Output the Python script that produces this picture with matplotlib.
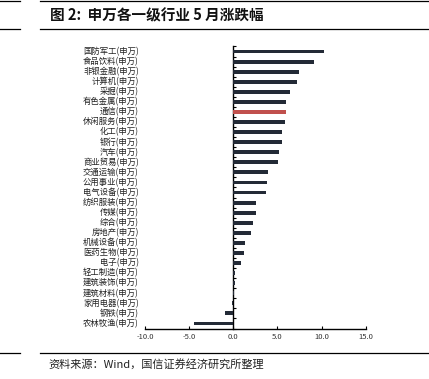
import matplotlib
matplotlib.use("Agg")
import matplotlib.pyplot as plt
from matplotlib.lines import Line2D
import numpy as np

plt.rcParams['font.family'] = ['Noto Sans CJK SC', 'DejaVu Sans']

categories = ["国防军工(申万)", "食品饮料(申万)", "非银金融(申万)", "计算机(申万)", "采掘(申万)",
              "有色金属(申万)", "通信(申万)", "休闲服务(申万)", "化工(申万)", "银行(申万)",
              "汽车(申万)", "商业贸易(申万)", "交通运输(申万)", "公用事业(申万)", "电气设备(申万)",
              "纺织服装(申万)", "传媒(申万)", "综合(申万)", "房地产(申万)", "机械设备(申万)",
              "医药生物(申万)", "电子(申万)", "轻工制造(申万)", "建筑装饰(申万)", "建筑材料(申万)",
              "家用电器(申万)", "钢铁(申万)", "农林牧渔(申万)"]
values = [10.3, 9.2, 7.5, 7.2, 6.4, 6.0, 5.95, 5.9, 5.5, 5.5,
          5.2, 5.1, 3.9, 3.8, 3.7, 2.6, 2.6, 2.2, 2.0, 1.3,
          1.2, 0.9, 0.2, 0.2, 0.05, -0.2, -0.9, -4.4]
highlight = "通信(申万)"
xticks = [-10, -5, 0, 5, 10, 15]

title = "图 2:  申万各一级行业 5 月涨跌幅"
source = "资料来源：Wind，国信证券经济研究所整理"

W, H = 429, 379
fig = plt.figure(figsize=(W / 100, H / 100), dpi=100)
ax = fig.add_axes([145 / W, 1 - 328.5 / H, (365.7 - 145) / W, (328.5 - 46.5) / H])

n = len(categories)
ypos = np.arange(n)
colors = ['#c0504d' if c == highlight else '#232a36' for c in categories]
ax.barh(ypos, values, height=0.38, color=colors, zorder=3)
ax.set_ylim(n - 0.5, -0.5)
ax.set_xlim(-10, 15)

ax.spines['top'].set_visible(False)
ax.spines['right'].set_visible(False)
ax.spines['left'].set_position(('data', 0))
ax.spines['left'].set_linewidth(1.0)
ax.spines['bottom'].set_linewidth(1.0)

ax.set_yticks(np.arange(n + 1) - 0.5)
ax.set_yticklabels([])
ax.tick_params(axis='y', direction='in', length=2.5, width=0.8, color='black')
ax.set_xticks(xticks)
ax.set_xticklabels([f"{v:.1f}" for v in xticks], fontsize=5.5, color='#333333')
ax.tick_params(axis='x', direction='in', length=2.5, width=0.8, pad=3)

tr = ax.get_yaxis_transform()
for y, c in zip(ypos, categories):
    ax.text(-0.028, y, c, transform=tr, ha='right', va='center', fontsize=6.0, color='#222222')

# header and footer rules
for yy in [0.8, 28.5, 353.3]:
    fig.add_artist(Line2D([0, 20 / W], [1 - yy / H] * 2, color='black', lw=0.9, transform=fig.transFigure))
    fig.add_artist(Line2D([40 / W, 1], [1 - yy / H] * 2, color='black', lw=0.9, transform=fig.transFigure))

fig.text(50 / W, 1 - 15 / H, title, fontsize=10.5, fontweight='bold', ha='left', va='center', color='#111111')
fig.text(48 / W, 1 - 364.5 / H, source, fontsize=8.0, ha='left', va='center', color='#222222')

fig.savefig("out.png", dpi=100)
